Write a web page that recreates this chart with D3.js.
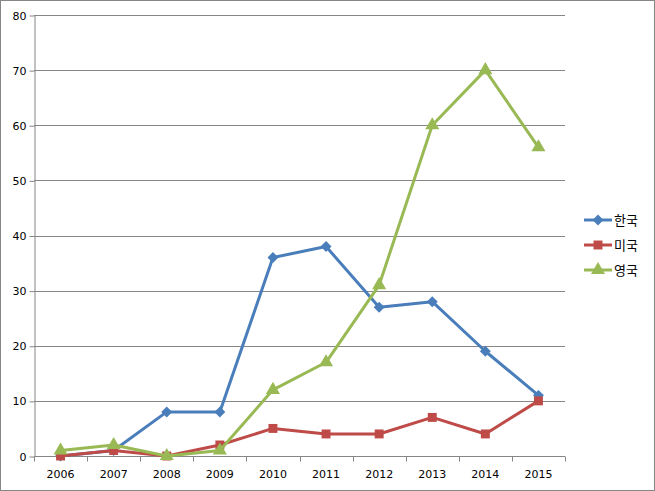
<!DOCTYPE html>
<html><head><meta charset="utf-8">
<script src="https://cdn.jsdelivr.net/npm/d3@7"></script>
<style>body{margin:0;background:#fff}svg{display:block}</style>
</head><body>
<svg id="c" width="655" height="491"></svg>
<script>
const years = ["2006","2007","2008","2009","2010","2011","2012","2013","2014","2015"];
const seriesNames = ["한국","미국","영국"];
const korea = [0,1,8,8,36,38,27,28,19,11];
const usa = [0,1,0,2,5,4,4,7,4,10];
const uk = [1,2,0,1,12,17,31,60,70,56];
const yTicks = [0,10,20,30,40,50,60,70,80];
const colors = ["#4A7EBB","#BE4B48","#98B954"];
const squareDiamond = {draw(ctx, size){const r=Math.sqrt(size/2);ctx.moveTo(0,-r);ctx.lineTo(r,0);ctx.lineTo(0,r);ctx.lineTo(-r,0);ctx.closePath();}};
const symbols = [squareDiamond, d3.symbolSquare, d3.symbolTriangle];
const symSizes = [60, 80, 85];

const svg = d3.select("#c");
svg.append("rect").attr("x",0.5).attr("y",0.5).attr("width",654).attr("height",490)
  .attr("fill","#fff").attr("stroke","#868686");

const L=34, R=565, T=15, B=456;
const x = d3.scaleBand().domain(years).range([L,R]);
const y = d3.scaleLinear().domain([0,80]).range([B,T]);

svg.append("g").selectAll("line").data(yTicks.slice(1)).join("line")
  .attr("x1",L).attr("x2",R).attr("y1",d=>Math.round(y(d))+0.5).attr("y2",d=>Math.round(y(d))+0.5)
  .attr("stroke","#868686").attr("stroke-width",1);

const yAxis = svg.append("g").attr("transform",`translate(${L+0.5},0.5)`)
  .call(d3.axisLeft(y).tickValues(yTicks).tickSize(5).tickSizeOuter(0).tickPadding(3));
yAxis.select(".domain").attr("stroke","#868686");
yAxis.selectAll(".tick line").attr("stroke","#868686");
yAxis.selectAll("text").attr("font-family","DejaVu Sans, sans-serif").attr("font-size",11).attr("fill","#000");

const xg = svg.append("g").attr("transform",`translate(0,${B+0.5})`);
xg.append("line").attr("x1",L).attr("x2",R).attr("stroke","#868686");
const bounds = years.map(d=>x(d)).concat([R]);
xg.selectAll("line.t").data(bounds).join("line").attr("class","t")
  .attr("x1",d=>Math.round(d)+0.5).attr("x2",d=>Math.round(d)+0.5).attr("y1",0).attr("y2",5)
  .attr("stroke","#868686");
xg.selectAll("text").data(years).join("text")
  .attr("x",d=>x(d)+x.bandwidth()/2).attr("y",21).attr("text-anchor","middle")
  .attr("font-family","DejaVu Sans, sans-serif").attr("font-size",11).text(d=>d);

const data = [korea, usa, uk];
const line = d3.line().x((d,i)=>x(years[i])+x.bandwidth()/2).y(d=>y(d));
data.forEach((vals,s)=>{
  const g = svg.append("g");
  g.append("path").attr("d",line(vals)).attr("fill","none").attr("stroke",colors[s])
    .attr("stroke-width",3).attr("stroke-linejoin","round");
  g.selectAll("path.m").data(vals).join("path").attr("class","m")
    .attr("transform",(d,i)=>`translate(${x(years[i])+x.bandwidth()/2},${y(d)})`)
    .attr("d",d3.symbol().type(symbols[s]).size(symSizes[s])).attr("fill",colors[s]);
});

const leg = svg.append("g");
seriesNames.forEach((n,i)=>{
  const yy = 220 + i*25;
  leg.append("line").attr("x1",584).attr("x2",612).attr("y1",yy).attr("y2",yy)
    .attr("stroke",colors[i]).attr("stroke-width",3);
  leg.append("path").attr("transform",`translate(598,${yy})`)
    .attr("d",d3.symbol().type(symbols[i]).size(symSizes[i])).attr("fill",colors[i]);
  leg.append("text").attr("x",614).attr("y",yy+5).attr("font-family","Noto Sans CJK KR, sans-serif")
    .attr("font-size",13).text(n);
});
</script>
</body></html>
